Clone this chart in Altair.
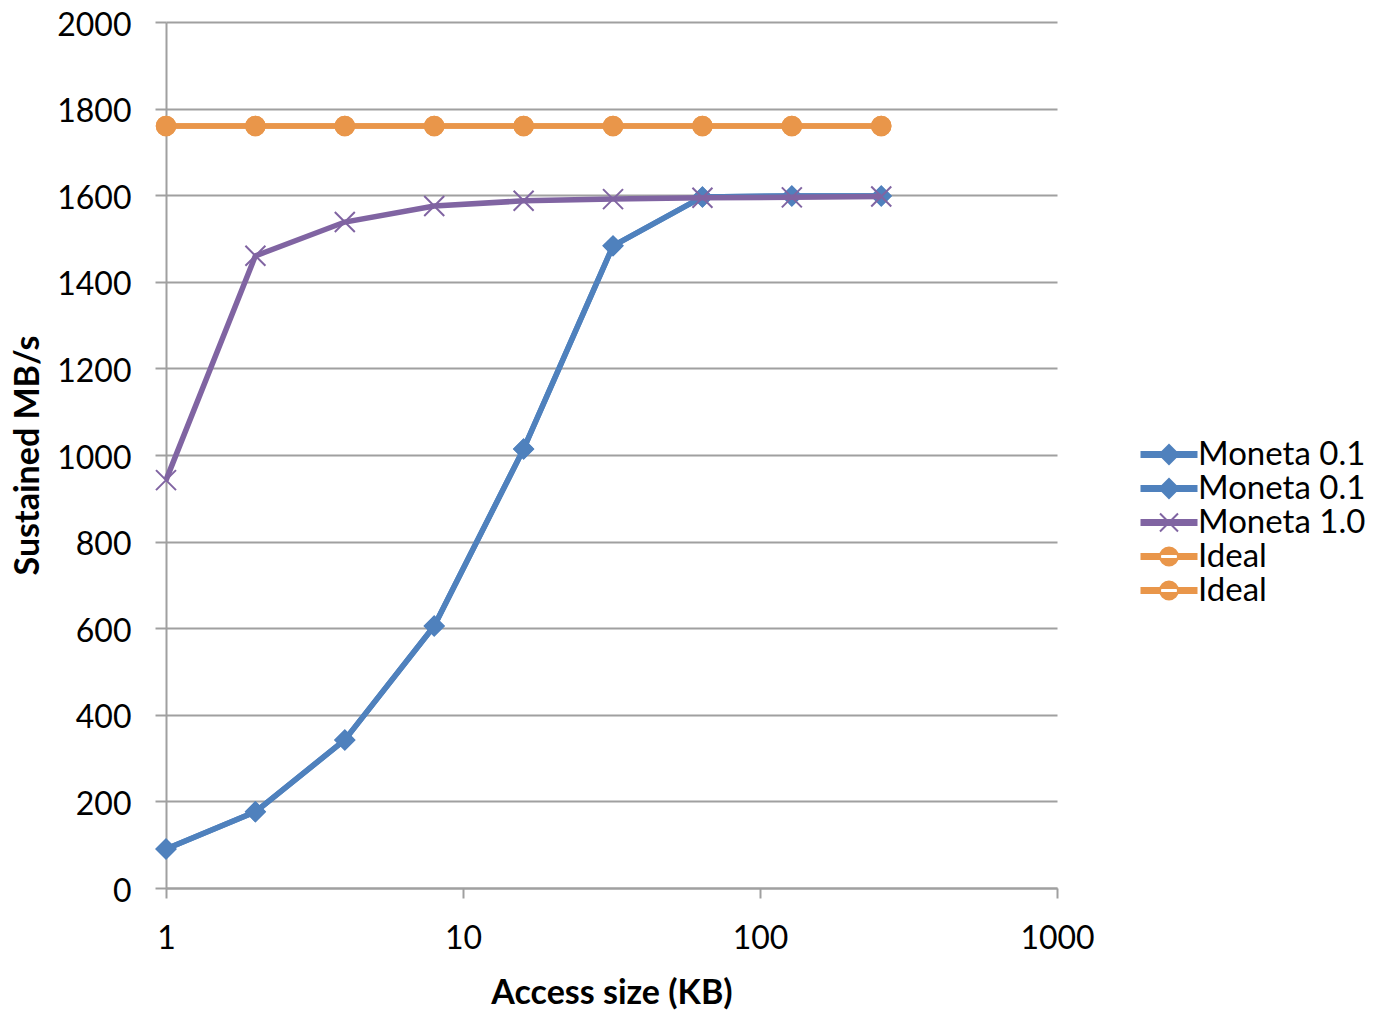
import altair as alt
import pandas as pd

# ---- data ----
access_kb = [1, 2, 4, 8, 16, 32, 64, 128, 256]
moneta01_a = [90, 176, 342, 605, 1014, 1483, 1596, 1598, 1598]
moneta01_b = [90, 176, 342, 605, 1014, 1483, 1596, 1598, 1598]
moneta10 = [942, 1460, 1538, 1575, 1587, 1591, 1594, 1595, 1597]
ideal_a = [1760, 1760, 1760, 1760, 1760, 1760, 1760, 1760, 1760]
ideal_b = [1760, 1760, 1760, 1760, 1760, 1760, 1760, 1760, 1760]

series_keys = ["k1", "k2", "k3", "k4", "k5"]
series_names = ["Moneta 0.1", "Moneta 0.1", "Moneta 1.0", "Ideal", "Ideal"]
series_values = [moneta01_a, moneta01_b, moneta10, ideal_a, ideal_b]
series_colors = ["#4F81BD", "#4F81BD", "#8064A2", "#E9964A", "#E9964A"]
series_marker = ["diamond", "diamond", "x", "circle", "circle"]

x_ticks = [1, 10, 100, 1000]
y_ticks = [0, 200, 400, 600, 800, 1000, 1200, 1400, 1600, 1800, 2000]

FONT = "Lato"
GRID = "#A0A0A0"
X_PATH = "M-1,-1L1,1M-1,1L1,-1"

rows = []
for k, n, vals in zip(series_keys, series_names, series_values):
    for xv, yv in zip(access_kb, vals):
        rows.append({"key": k, "name": n, "x": xv, "y": yv})
df = pd.DataFrame(rows)

x_enc = alt.X(
    "x:Q",
    scale=alt.Scale(type="log", domain=[1, 1000]),
    axis=alt.Axis(
        values=x_ticks, format="d", grid=False, title="Access size (KB)",
        titleX=445.5, titleY=105, titleBaseline="middle",
        tickSize=10, labelPadding=25, labelFlush=False,
    ),
)
y_enc = alt.Y(
    "y:Q",
    scale=alt.Scale(domain=[0, 2000]),
    axis=alt.Axis(
        values=y_ticks, format="d", grid=True, title="Sustained MB/s",
        titleAngle=270, titleX=-138, titleY=433, titleBaseline="middle",
        titleAlign="center", tickSize=11, labelPadding=24, labelOffset=3,
    ),
)

layers = []
for k, c, m in zip(series_keys, series_colors, series_marker):
    base = alt.Chart(df).transform_filter(alt.datum.key == k)
    layers.append(base.mark_line(color=c, strokeWidth=5.5).encode(x=x_enc, y=y_enc))
    if m == "x":
        layers.append(base.mark_point(shape=X_PATH, filled=False, color=c, size=400,
                                      strokeWidth=2, opacity=1).encode(x="x:Q", y="y:Q"))
    elif m == "diamond":
        layers.append(base.mark_point(shape="diamond", filled=True, color=c, size=460,
                                      opacity=1).encode(x="x:Q", y="y:Q"))
    else:
        layers.append(base.mark_point(shape="circle", filled=True, color=c, size=420,
                                      opacity=1).encode(x="x:Q", y="y:Q"))

# legend symbols: line + marker (path units = 10 px at size 400)
LINE = "M-1,-0.25L4.5,-0.25L4.5,0.25L-1,0.25Z"
leg_shapes = {
    "diamond": LINE + " M0.8,0L1.75,-0.95L2.7,0L1.75,0.95Z",
    "x": LINE + " M0.85,-0.9L2.65,0.9M0.85,0.9L2.65,-0.9",
    "circle": LINE + " M0.85,0A0.9,0.9 0 1,0 2.65,0A0.9,0.9 0 1,0 0.85,0Z",
}
shape_range = [leg_shapes[m] for m in series_marker]
label_map = "{" + ",".join(f"'{k}':'{n}'" for k, n in zip(series_keys, series_names)) + "}"

legend = alt.Legend(
    title=None, orient="none", legendX=969, legendY=416,
    symbolSize=400, symbolStrokeWidth=2, labelOffset=30,
    labelFont=FONT, labelFontSize=33, labelColor="black", labelLimit=400,
    rowPadding=-1, padding=0, labelExpr=f"{label_map}[datum.value]",
)
legend_layer = (
    alt.Chart(df)
    .transform_filter("false")
    .mark_point(filled=True, opacity=1, strokeWidth=2)
    .encode(
        x="x:Q", y="y:Q",
        fill=alt.Fill("key:N", scale=alt.Scale(domain=series_keys, range=series_colors), legend=legend),
        stroke=alt.Stroke("key:N", scale=alt.Scale(domain=series_keys, range=series_colors), legend=legend),
        shape=alt.Shape("key:N", scale=alt.Scale(domain=series_keys, range=shape_range), legend=legend),
    )
)
layers.append(legend_layer)

chart = (
    alt.layer(*layers)
    .properties(
        width=891, height=866,
        autosize=alt.AutoSizeParams(type="none"),
        padding={"left": 158, "top": 14, "right": 312, "bottom": 122},
    )
    .configure_view(stroke=None)
    .configure_axis(
        labelFont=FONT, labelFontSize=32, labelColor="black",
        titleFont=FONT, titleFontSize=34, titleFontWeight="bold", titleColor="black",
        domainColor=GRID, domainWidth=2, tickColor=GRID, tickWidth=2,
        gridColor=GRID, gridWidth=2,
    )
)

chart.save("out.html", embed_options={"renderer": "svg", "actions": False})
